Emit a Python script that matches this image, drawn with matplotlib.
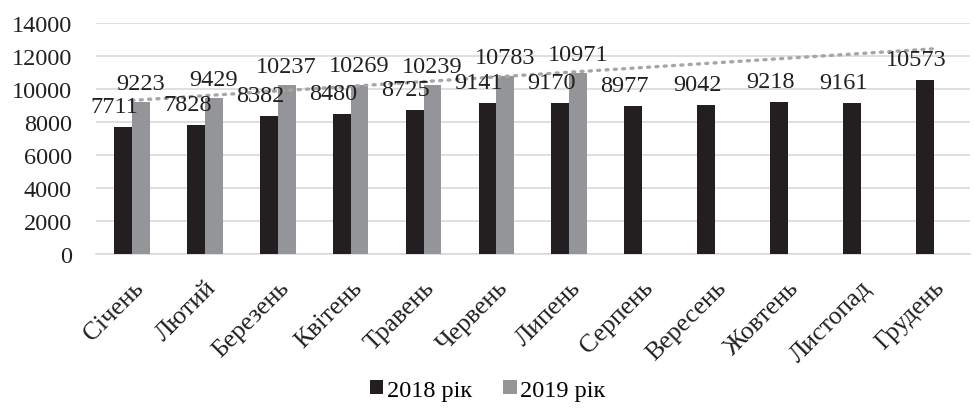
import matplotlib
matplotlib.use("Agg")
import matplotlib.pyplot as plt
import numpy as np

months = ["Січень", "Лютий", "Березень", "Квітень", "Травень", "Червень",
          "Липень", "Серпень", "Вересень", "Жовтень", "Листопад", "Грудень"]
values_2018 = [7711, 7828, 8382, 8480, 8725, 9141, 9170, 8977, 9042, 9218, 9161, 10573]
values_2019 = [9223, 9429, 10237, 10269, 10239, 10783, 10971]
series_names = ["2018 рік", "2019 рік"]
yticks = [0, 2000, 4000, 6000, 8000, 10000, 12000, 14000]

FAM = ['Liberation Serif', 'DejaVu Serif']
plt.rcParams['font.family'] = FAM
plt.rcParams['font.serif'] = FAM

fig = plt.figure(figsize=(9.75, 4.14), dpi=100)
ax = fig.add_axes([0.098, 0.384, 0.897, 0.558])

c2018 = "#231f20"
c2019 = "#939598"
w = 0.245
x18 = np.arange(len(values_2018))
x19 = np.arange(len(values_2019))

b1 = ax.bar(x18 - w / 2, values_2018, w, color=c2018, label=series_names[0], zorder=3)
b2 = ax.bar(x19 + w / 2, values_2019, w, color=c2019, label=series_names[1], zorder=3)

# linear trend of 2019 series, forecast over all months
coef = np.polyfit(x19, values_2019, 1)
xt = np.arange(len(months))
ax.plot(xt, np.polyval(coef, xt), linestyle=(0, (0.6, 1.9)), color="#a6a6a6",
        linewidth=2.4, dash_capstyle="round", zorder=4)

fs = 17.5
for rect, v in zip(b1, values_2018):
    ax.annotate(str(v), (rect.get_x() + rect.get_width() / 2 - 0.12, v),
                xytext=(0, 7), textcoords="offset points", ha="center", va="bottom",
                fontsize=fs, color="#231f20", zorder=5, family=FAM)
for rect, v in zip(b2, values_2019):
    ax.annotate(str(v), (rect.get_x() + rect.get_width() / 2, v),
                xytext=(0, 6), textcoords="offset points", ha="center", va="bottom",
                fontsize=fs, color="#231f20", zorder=5, family=FAM)

ax.set_xlim(-0.5, len(months) - 0.5)
ax.set_ylim(0, 14000)
ax.set_yticks(yticks)
ax.set_yticklabels([str(t) for t in yticks], fontsize=fs, color="#231f20", family=FAM)
ax.set_xticks(xt)
ax.set_xticklabels(months, rotation=45, ha="right", rotation_mode="anchor",
                   fontsize=18.5, color="#231f20", family=FAM)
ax.tick_params(axis="y", length=0, pad=17)
ax.tick_params(axis="x", length=0, pad=16)
ax.grid(axis="y", color="#d9d9d9", linewidth=1.2, zorder=0)
for s in ["top", "right", "left"]:
    ax.spines[s].set_visible(False)
ax.spines["bottom"].set_color("#d9d9d9")
ax.spines["bottom"].set_linewidth(1.2)

leg = fig.legend(handles=[b1, b2], labels=series_names, loc="center",
                 bbox_to_anchor=(0.5, 0.055), ncol=2, frameon=False,
                 prop={'family': FAM, 'size': fs}, handlelength=0.55, handleheight=0.55,
                 handletextpad=0.15, columnspacing=1.3)

fig.savefig("out.png", dpi=100)
